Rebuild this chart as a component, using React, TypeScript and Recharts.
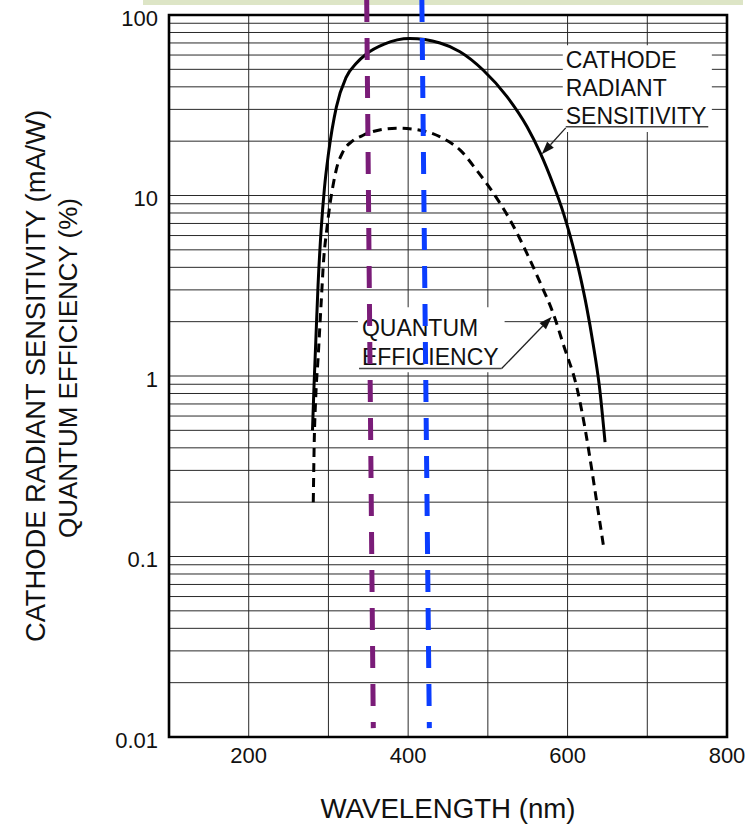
import React from 'react';
import {
  LineChart,
  Line,
  XAxis,
  YAxis,
  CartesianGrid,
  ReferenceLine,
  ReferenceArea,
} from 'recharts';

// photocathode response
const cathodeWavelength = [280, 282, 284, 287, 291, 295, 300, 310, 322, 335, 348, 370, 402, 440, 465, 494, 524, 549, 566, 582, 595, 603, 616, 624, 632, 640, 647];
const cathodeSensitivity = [0.5, 0.9, 1.5, 3.2, 6.6, 11, 17, 31, 45, 54, 61, 69, 74, 70, 62.6, 49.6, 35.3, 24.1, 17.1, 11.5, 7.94, 6.03, 3.55, 2.4, 1.51, 0.87, 0.43];

const qeWavelength = [281, 282, 284, 287, 291, 294, 298, 302, 306, 310, 318, 330, 342, 350, 385, 415, 444, 465, 486, 507, 528, 549, 566, 582, 595, 612, 622, 630, 637, 645];
const qeEfficiency = [0.2, 0.39, 0.75, 1.25, 2.6, 4.4, 6.5, 9, 11.5, 14, 17.4, 20, 21.4, 22.2, 23.6, 23, 20.7, 17.9, 13.8, 10.3, 7.3, 4.78, 3.26, 2.22, 1.48, 0.85, 0.51, 0.31, 0.195, 0.115];

// hand-drawn marker lines (wavelength at top / bottom of the plot)
const purpleMarker = [348, 356.3];
const blueMarker = [417.2, 426.6];
const markerSpan = [121, 0.0112];

const xTicks = [100, 200, 300, 400, 500, 600, 700, 800];
const xTickLabels = [200, 400, 600, 800];
const yDecades = [0.01, 0.1, 1, 10];
const yMinorSteps = [1, 2, 3, 4, 5, 6, 7, 8, 9];
const yTickLabels = ['0.01', '0.1', '1', '10', '100'];

const yTicks = [
  ...yDecades.flatMap((d) => yMinorSteps.map((k) => Number((d * k).toPrecision(3)))),
  100,
];

const cathodeData = cathodeWavelength.map((wl, i) => ({ wl, value: cathodeSensitivity[i] }));
const qeData = qeWavelength.map((wl, i) => ({ wl, value: qeEfficiency[i] }));

const FONT = '"Liberation Sans", Arial, Helvetica, sans-serif';

function yLabelFor(v: number): string | null {
  const lg = Math.log10(v);
  if (Math.abs(lg - Math.round(lg)) > 1e-6) return null;
  return yTickLabels[Math.round(lg) + 2] ?? null;
}

function YTick(props: any) {
  const { x, y, payload } = props;
  const label = yLabelFor(payload.value);
  if (!label) return <g />;
  return (
    <text x={x} y={y + 3} textAnchor="end" dominantBaseline="central" fontSize={22} fontFamily={FONT} fill="#111">
      {label}
    </text>
  );
}

function XTick(props: any) {
  const { x, y, payload } = props;
  if (!xTickLabels.includes(payload.value)) return <g />;
  return (
    <text x={x} y={y} dy="0.72em" textAnchor="middle" fontSize={22} fontFamily={FONT} fill="#111">
      {payload.value}
    </text>
  );
}

function YTitle(props: any) {
  const vb = props.viewBox ?? { x: 0, y: 15, width: 169, height: 722 };
  const cy = vb.y + vb.height / 2;
  const x1 = vb.x + 45;
  const x2 = vb.x + 77;
  return (
    <g fontFamily={FONT} fill="#111">
      <text x={x1} y={cy} transform={`rotate(-90 ${x1} ${cy})`} textAnchor="middle" fontSize={27}
        textLength={532} lengthAdjust="spacingAndGlyphs">
        CATHODE RADIANT SENSITIVITY (mA/W)
      </text>
      <text x={x2} y={cy - 8} transform={`rotate(-90 ${x2} ${cy - 8})`} textAnchor="middle" fontSize={26}
        textLength={340} lengthAdjust="spacingAndGlyphs">
        QUANTUM EFFICIENCY (%)
      </text>
    </g>
  );
}

function XTitle(props: any) {
  const vb = props.viewBox ?? { x: 169, y: 737, width: 558, height: 89 };
  return (
    <text x={vb.x + vb.width / 2} y={vb.y + 81} textAnchor="middle" fontSize={27} fontFamily={FONT} fill="#111"
      textLength={255} lengthAdjust="spacingAndGlyphs">
      WAVELENGTH (nm)
    </text>
  );
}

function BoxText({ viewBox, lines, dx, dys }: any) {
  if (!viewBox) return null;
  return (
    <g fontFamily={FONT} fontSize={23} fill="#111">
      {lines.map((t: string, i: number) => (
        <text key={t} x={viewBox.x + dx} y={viewBox.y + dys[i]}>{t}</text>
      ))}
    </g>
  );
}

function ArrowLine(props: any) {
  const { x1, y1, x2, y2 } = props;
  const ang = Math.atan2(y2 - y1, x2 - x1);
  const len = 13;
  const half = 4.5;
  const bx = x2 - len * Math.cos(ang);
  const by = y2 - len * Math.sin(ang);
  const px = -Math.sin(ang) * half;
  const py = Math.cos(ang) * half;
  return (
    <g>
      <line x1={x1} y1={y1} x2={bx} y2={by} stroke="#222" strokeWidth={1.3} />
      <polygon points={`${x2},${y2} ${bx + px},${by + py} ${bx - px},${by - py}`} fill="#111" />
    </g>
  );
}

export default function App() {
  return (
    <div style={{ position: 'absolute', left: 0, top: 0, width: 753, height: 826, background: '#fff' }}>
      <div style={{ position: 'absolute', left: 143, top: 0, width: 600, height: 5, background: '#dde5c6' }} />
      <LineChart width={753} height={826} margin={{ top: 15, right: 26, bottom: 0, left: 0 }}>
        <CartesianGrid stroke="#2a2a2a" strokeWidth={1} />
        <XAxis
          dataKey="wl"
          type="number"
          domain={[100, 800]}
          ticks={xTicks}
          interval={0}
          height={89}
          tickSize={0}
          tickMargin={10}
          tickLine={false}
          axisLine={false}
          tick={<XTick />}
          label={<XTitle />}
          allowDataOverflow
        />
        <YAxis
          type="number"
          scale="log"
          domain={[0.01, 100]}
          ticks={yTicks}
          interval={0}
          width={169}
          tickSize={0}
          tickMargin={11}
          tickLine={false}
          axisLine={false}
          tick={<YTick />}
          label={<YTitle />}
          allowDataOverflow
        />
        <ReferenceArea
          x1={594}
          x2={781}
          y1={22.5}
          y2={68}
          fill="#fff"
          fillOpacity={1}
          stroke="none"
          label={<BoxText lines={['CATHODE', 'RADIANT', 'SENSITIVITY']} dx={3} dys={[22.5, 50.8, 79.1]} />}
        />
        <ReferenceArea
          x1={337}
          x2={521}
          y1={1.05}
          y2={2.4}
          fill="#fff"
          fillOpacity={1}
          stroke="none"
          label={<BoxText lines={['QUANTUM', 'EFFICIENCY']} dx={4} dys={[28.6, 57.6]} />}
        />
        <ReferenceArea x1={100} x2={800} y1={0.01} y2={100} fill="none" stroke="#000" strokeWidth={2.6} />
        <Line
          data={qeData}
          dataKey="value"
          type="monotone"
          stroke="#000"
          strokeWidth={3}
          strokeDasharray="9 6"
          dot={false}
          activeDot={false}
          isAnimationActive={false}
        />
        <Line
          data={cathodeData}
          dataKey="value"
          type="monotone"
          stroke="#000"
          strokeWidth={3}
          dot={false}
          activeDot={false}
          isAnimationActive={false}
        />
        <ReferenceLine segment={[{ x: 597.7, y: 24 }, { x: 776.5, y: 24 }]} stroke="#444" strokeWidth={1.5} />
        <ReferenceLine segment={[{ x: 597.7, y: 23.7 }, { x: 567.6, y: 16.9 }]} shape={<ArrowLine />} />
        <ReferenceLine segment={[{ x: 338.4, y: 1.1 }, { x: 517.3, y: 1.1 }]} stroke="#444" strokeWidth={1.5} />
        <ReferenceLine segment={[{ x: 517.3, y: 1.1 }, { x: 580.2, y: 2.13 }]} shape={<ArrowLine />} />
        <ReferenceLine
          segment={[{ x: purpleMarker[0], y: markerSpan[0] }, { x: purpleMarker[1], y: markerSpan[1] }]}
          stroke="#7a1c78"
          strokeWidth={5}
          strokeDasharray="22 16"
          ifOverflow="visible"
        />
        <ReferenceLine
          segment={[{ x: blueMarker[0], y: markerSpan[0] }, { x: blueMarker[1], y: markerSpan[1] }]}
          stroke="#0b3dff"
          strokeWidth={5}
          strokeDasharray="22 16"
          ifOverflow="visible"
        />
      </LineChart>
    </div>
  );
}
